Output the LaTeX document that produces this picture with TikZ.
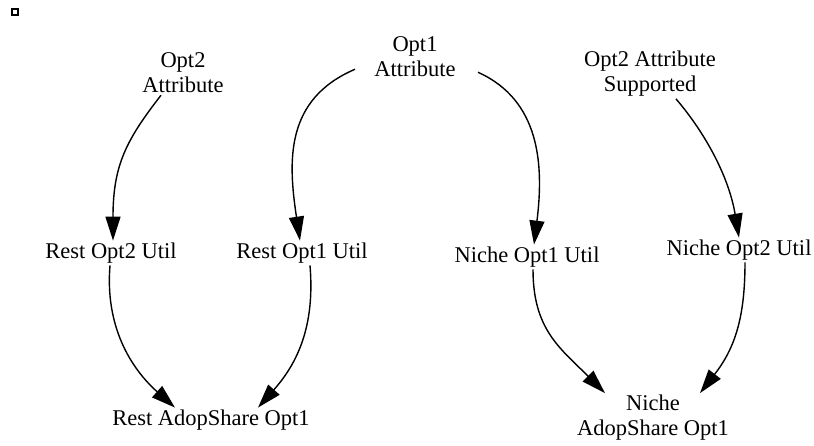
\documentclass[tikz,border=0pt]{standalone}
\usepackage{fontspec}
\setmainfont{Liberation Serif}
\usetikzlibrary{arrows.meta}
\begin{document}
\begin{tikzpicture}[x=1pt,y=-1pt,
  lbl/.style={align=center,inner sep=2pt,font=\fontsize{22.5}{25}\selectfont},
  arr/.style={line width=1.4pt,-{Triangle[length=24pt,width=15pt]}},
  sqbox/.style={draw,line width=2pt,minimum size=6pt,inner sep=0pt}]
\useasboundingbox (0,0) rectangle (814,446);
\node[sqbox] (sq) at (15,12) {};
\node[lbl] (o2a) at (183,73) {Opt2\\Attribute};
\node[lbl] (o1a) at (415,57) {Opt1\\Attribute};
\node[lbl] (o2s) at (650,74) {Opt2 Attribute\\Supported};
\node[lbl] (ro2) at (111,253) {Rest Opt2 Util};
\node[lbl] (ro1) at (302,253) {Rest Opt1 Util};
\node[lbl] (no1) at (527,257) {Niche Opt1 Util};
\node[lbl] (no2) at (739,250) {Niche Opt2 Util};
\node[lbl] (ra) at (211,420) {Rest AdopShare Opt1};
\node[lbl] (na) at (653,418) {Niche\\AdopShare Opt1};
\draw[arr] ([xshift=-22pt]o2a.south) .. controls +(-35,45) and +(0,-75) .. ([xshift=2pt]ro2.north);
\draw[arr] ([xshift=-60pt,yshift=10pt]o1a.south) .. controls +(-70,30) and +(-12,-80) .. ([xshift=-2pt]ro1.north);
\draw[arr] ([xshift=63pt,yshift=7pt]o1a.south) .. controls +(62,28) and +(10,-80) .. ([xshift=7pt]no1.north);
\draw[arr] ([xshift=26pt]o2s.south) .. controls +(30,35) and +(-10,-60) .. (no2.north);
\draw[arr] ([xshift=-1pt]ro2.south) .. controls +(-5,60) and +(-45,-40) .. ([xshift=-36pt]ra.north);
\draw[arr] ([xshift=8pt]ro1.south) .. controls +(5,60) and +(40,-45) .. ([xshift=47pt]ra.north);
\draw[arr] ([xshift=6pt]no1.south) .. controls +(0,60) and +(-45,-45) .. ([xshift=-48pt]na.north);
\draw[arr] ([xshift=6pt]no2.south) .. controls +(0,55) and +(35,-45) .. ([xshift=47pt]na.north);
\end{tikzpicture}
\end{document}
